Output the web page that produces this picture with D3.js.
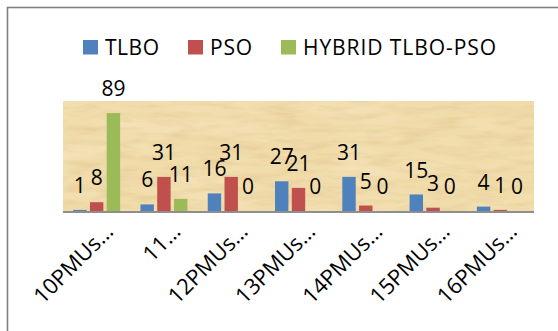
<!DOCTYPE html>
<html>
<head>
<meta charset="utf-8">
<script src="https://cdn.jsdelivr.net/npm/d3@7"></script>
<style>
  html, body { margin: 0; padding: 0; background: #ffffff; }
  svg { display: block; }
  text { font-family: "Open Sans", "Noto Sans", sans-serif; fill: #000; }
</style>
</head>
<body>
<script>
// ---- data ----
const categories = ["10PMUs…", "11…", "12PMUs…", "13PMUs…", "14PMUs…", "15PMUs…", "16PMUs…"];
const seriesNames = ["TLBO", "PSO", "HYBRID TLBO-PSO"];
const tlbo   = [1, 6, 16, 27, 31, 15, 4];
const pso    = [8, 31, 31, 21, 5, 3, 1];
const hybrid = [89, 11, 0, 0, 0, 0, 0];
const seriesColors = ["#4f81bd", "#c0504d", "#9bbb59"];
const yMax = 100;

const seriesValues = [tlbo, pso, hybrid];

const W = 558, H = 331;
const plot = { left: 63, right: 534, top: 101, bottom: 211 };

const svg = d3.select("body").append("svg")
  .attr("width", W).attr("height", H);

// subtle papyrus-like texture for the plot background
const defs = svg.append("defs");
const f = defs.append("filter").attr("id", "papyrus")
  .attr("x", 0).attr("y", 0).attr("width", 1).attr("height", 1)
  .attr("color-interpolation-filters", "sRGB");
f.append("feTurbulence").attr("type", "fractalNoise")
  .attr("baseFrequency", "0.03 0.15").attr("numOctaves", 3).attr("seed", 7).attr("result", "n1");
f.append("feColorMatrix").attr("in", "n1").attr("type", "matrix")
  .attr("values", "0 0 0 0 0.86  0 0 0 0 0.74  0 0 0 0 0.52  0.9 0 0 0 -0.38")
  .attr("result", "dark");
f.append("feTurbulence").attr("type", "fractalNoise")
  .attr("baseFrequency", "0.012 0.05").attr("numOctaves", 2).attr("seed", 3).attr("result", "n2");
f.append("feColorMatrix").attr("in", "n2").attr("type", "matrix")
  .attr("values", "0 0 0 0 0.98  0 0 0 0 0.93  0 0 0 0 0.80  0 0.9 0 0 -0.35")
  .attr("result", "light");
f.append("feMerge").selectAll("feMergeNode").data(["SourceGraphic", "light", "dark"]).join("feMergeNode")
  .attr("in", d => d);

// outer frame
svg.append("rect")
  .attr("x", 7.5).attr("y", 7.5).attr("width", 700).attr("height", 500)
  .attr("fill", "none").attr("stroke", "#808080").attr("stroke-width", 1.6);

// scales
const x0 = d3.scaleBand().domain(categories).range([plot.left, plot.right]).paddingInner(0).paddingOuter(0);
const step = x0.bandwidth();
const x1 = d3.scaleBand().domain(seriesNames)
  .range([step * 0.151, step * 0.849]).paddingInner(0.2).paddingOuter(0);
const y = d3.scaleLinear().domain([0, yMax]).range([plot.bottom, plot.top]);

// plot background
svg.append("rect")
  .attr("x", plot.left).attr("y", plot.top)
  .attr("width", plot.right - plot.left).attr("height", plot.bottom - plot.top)
  .attr("fill", "#f0dba9")
  .attr("filter", "url(#papyrus)");

// bars
seriesNames.forEach((s, si) => {
  const g = svg.append("g");
  g.selectAll("rect").data(seriesValues[si]).join("rect")
    .attr("x", (d, i) => x0(categories[i]) + x1(s))
    .attr("width", x1.bandwidth())
    .attr("y", d => y(d))
    .attr("height", d => y(0) - y(d))
    .attr("fill", seriesColors[si]);
});

// baseline
svg.append("line")
  .attr("x1", plot.left).attr("x2", plot.right)
  .attr("y1", plot.bottom + 1).attr("y2", plot.bottom + 1)
  .attr("stroke", "#8e8e8e").attr("stroke-width", 2);

// data labels
seriesNames.forEach((s, si) => {
  svg.append("g").selectAll("text").data(seriesValues[si]).join("text")
    .attr("x", (d, i) => x0(categories[i]) + x1(s) + x1.bandwidth() / 2)
    .attr("y", d => y(d) - 17)
    .attr("text-anchor", "middle")
    .style("font-size", "21px")
    .text(d => d);
});

// x axis labels (rotated)
svg.append("g").selectAll("text").data(categories).join("text")
  .attr("transform", d => `translate(${x0(d) + step / 2 + 18},233) rotate(-45)`)
  .attr("text-anchor", "end")
  .style("font-size", "22px")
  .text(d => d);

// legend
const legendX = [83, 188, 281];
const legendTextW = [54, 42, 193];
const legend = svg.append("g");
seriesNames.forEach((s, si) => {
  legend.append("rect")
    .attr("x", legendX[si]).attr("y", 40).attr("width", 15).attr("height", 14.5)
    .attr("fill", seriesColors[si]);
  legend.append("text")
    .attr("x", legendX[si] + 22).attr("y", 55)
    .attr("textLength", legendTextW[si]).attr("lengthAdjust", "spacing")
    .style("font-size", "21px")
    .text(s);
});
</script>
</body>
</html>
